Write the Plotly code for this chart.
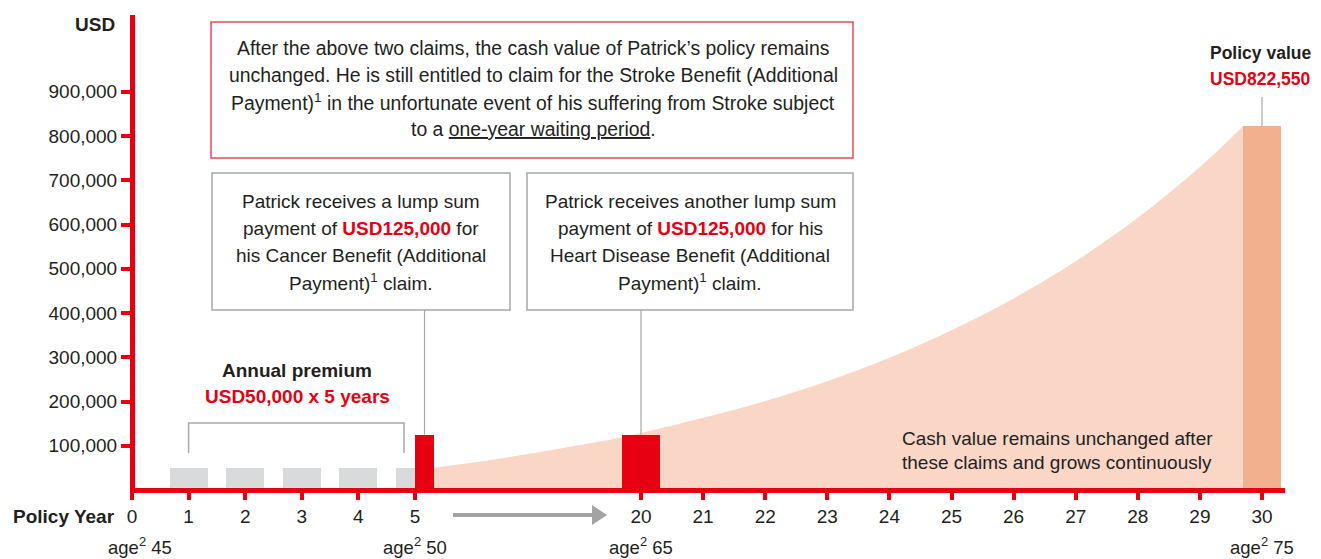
import numpy as np
import plotly.graph_objects as go

# ---------------- data ----------------
premium_years = [1, 2, 3, 4, 5]
premium_amounts = [50000, 50000, 50000, 50000, 50000]

claim_years = [5, 20]
claim_amounts = [125000, 125000]

cash_years = [5, 8, 11, 14, 17, 20, 21, 22, 23, 24, 25, 26, 27, 28, 29, 29.7]
cash_values = [44000, 58000, 73000, 90000, 108000, 129000, 163000, 201000,
               246000, 299000, 361000, 433000, 517000, 615000, 730000, 822550]

policy_value_year = 30
policy_value = 822550

tick_years = [0, 1, 2, 3, 4, 5, 20, 21, 22, 23, 24, 25, 26, 27, 28, 29, 30]
y_ticks = [100000, 200000, 300000, 400000, 500000, 600000, 700000, 800000, 900000]
age_years = [0, 5, 20, 30]
ages = [45, 50, 65, 75]

# ---------------- style / layout ----------------
RED = "#e60012"
TXT = "#231f20"
GRAY_BAR = "#d9dadb"
AREA = "#f9d6c6"
ORANGE = "#f3b08f"
BOX_GRAY = "#a8a8a8"
FONT = "Liberation Sans, Arial, sans-serif"

W, H = 1321, 559
OFF = 8                                # page body margin
PL, PR, PT, PB = 132, 1285, 15, 490   # plot area in window pixels
PX_PER_100K = 44.25
Y_MAX = (PB - PT) / PX_PER_100K * 100000

# broken axis: piecewise-linear year -> position (pixels from axis origin)
YEAR_KNOTS = [0, 5, 20, 30]
POS_KNOTS = [0, 283, 509, 1130]


def pos(years):
    return np.interp(np.asarray(years, dtype=float), YEAR_KNOTS, POS_KNOTS)


def fx(X):
    return (X - PL) / (PR - PL)


def fy(Y):
    return (PB - Y) / (PB - PT)


def fy_val(v):
    return v / Y_MAX


fig = go.Figure()

# cash value area (base subplot)
fig.add_trace(go.Scatter(
    x=pos(cash_years), y=cash_values, mode="lines", fill="tozeroy",
    fillcolor=AREA, line=dict(width=0, shape="spline", color=AREA),
    hoverinfo="skip", showlegend=False, xaxis="x", yaxis="y"))

# bars on overlaid subplot (drawn above the area)
fig.add_trace(go.Bar(
    x=pos(premium_years), y=premium_amounts, width=38,
    marker=dict(color=GRAY_BAR, line=dict(width=0)),
    showlegend=False, xaxis="x2", yaxis="y"))
fig.add_trace(go.Bar(
    x=pos(claim_years), y=claim_amounts, width=[19, 38], offset=[0, -19],
    marker=dict(color=RED, line=dict(width=0)),
    showlegend=False, xaxis="x2", yaxis="y"))
fig.add_trace(go.Bar(
    x=pos([policy_value_year]), y=[policy_value], width=38,
    marker=dict(color=ORANGE, line=dict(width=0)),
    showlegend=False, xaxis="x2", yaxis="y"))

shapes = []
annotations = []


def text(s, X, Y, size=19, color=TXT, xanchor="center", bold=False):
    if bold:
        s = "<b>" + s + "</b>"
    annotations.append(dict(
        text=s, x=fx(X), y=fy(Y), xref="paper", yref="paper",
        xanchor=xanchor, yanchor="middle", showarrow=False,
        font=dict(family=FONT, size=size, color=color)))


def rect(x0, y0, x1, y1, color, width=1.5):
    shapes.append(dict(type="rect", xref="paper", yref="paper",
                       x0=fx(x0), x1=fx(x1), y0=fy(y1), y1=fy(y0),
                       line=dict(color=color, width=width),
                       fillcolor="white", layer="above"))


def vline_val(X, Ytop, val, color=BOX_GRAY):
    shapes.append(dict(type="line", xref="paper", yref="paper",
                       x0=X / (PR - PL), x1=X / (PR - PL),
                       y0=fy(Ytop), y1=fy_val(val),
                       line=dict(color=color, width=1.2), layer="above"))


# top box
rect(211, 22, 853, 158, "#e94b56")
top_lines = [
    "After the above two claims, the cash value of Patrick’s policy remains",
    "unchanged. He is still entitled to claim for the Stroke Benefit (Additional",
    "Payment)<sup>1</sup> in the unfortunate event of his suffering from Stroke subject",
    "to a <u>one-year waiting period</u>.",
]
for i, s in enumerate(top_lines):
    text(s, 533, 48 + 27 * i, size=19.4)

# claim boxes
rect(212, 173, 510, 310, BOX_GRAY)
rect(527, 173, 853, 310, BOX_GRAY)
rb = "<b><span style='color:%s'>USD125,000</span></b>" % RED
box1 = ["Patrick receives a lump sum",
        "payment of " + rb + " for",
        "his Cancer Benefit (Additional",
        "Payment)<sup>1</sup> claim."]
box2 = ["Patrick receives another lump sum",
        "payment of " + rb + " for his",
        "Heart Disease Benefit (Additional",
        "Payment)<sup>1</sup> claim."]
for i, s in enumerate(box1):
    text(s, 361, 201 + 27 * i)
for i, s in enumerate(box2):
    text(s, 690, 201 + 27 * i)

# connectors from boxes to bars
claim_pos = pos(claim_years)
vline_val(claim_pos[0] + 9.5, 310, claim_amounts[0])
vline_val(claim_pos[1], 310, claim_amounts[1])
vline_val(pos([policy_value_year])[0], 97, policy_value)

# policy value label
text("Policy value", 1260, 53, size=17.5, bold=True)
text("USD822,550", 1260, 79, size=17.5, color=RED, bold=True)

# annual premium label + bracket
text("Annual premium", 297, 370, bold=True)
text("USD50,000 x 5 years", 297, 396, color=RED, bold=True)
bx0, bx1 = PL + pos([premium_years[0]])[0], 404
shapes.append(dict(type="path", xref="paper", yref="paper",
                   path="M %f %f L %f %f L %f %f L %f %f" % (
                       fx(bx0), fy(453), fx(bx0), fy(423),
                       fx(bx1), fy(423), fx(bx1), fy(453)),
                   line=dict(color=BOX_GRAY, width=1.5), layer="above"))

# cash value note
text("Cash value remains unchanged after", 1057, 438)
text("these claims and grows continuously", 1057, 462)

# axis titles
text("USD", 117, 25, bold=True, xanchor="right")
text("Policy Year", 117, 516, bold=True, xanchor="right")

# age labels
for yr, a in zip(age_years, ages):
    text("age<sup>2</sup> %d" % a, PL + pos([yr])[0] + (8 if yr == 0 else 0), 546, size=18.5)

# gray arrow in the axis break
shapes.append(dict(type="line", xref="paper", yref="paper",
                   x0=fx(453), x1=fx(594), y0=fy(515), y1=fy(515),
                   line=dict(color="#a3a3a3", width=4), layer="above"))
shapes.append(dict(type="path", xref="paper", yref="paper",
                   path="M %f %f L %f %f L %f %f Z" % (
                       fx(592), fy(505), fx(607), fy(515), fx(592), fy(525)),
                   fillcolor="#a3a3a3", line=dict(width=0), layer="above"))

# axis lines
shapes.append(dict(type="line", xref="paper", yref="paper",
                   x0=fx(130), x1=fx(1285), y0=fy(490.5), y1=fy(490.5),
                   line=dict(color=RED, width=5), layer="above"))
shapes.append(dict(type="line", xref="paper", yref="paper",
                   x0=fx(132.5), x1=fx(132.5), y0=fy(493), y1=fy(15),
                   line=dict(color=RED, width=5), layer="above"))

xr = [0, PR - PL]
fig.update_layout(
    width=W - OFF, height=H - OFF, autosize=False,
    margin=dict(l=PL - OFF, r=W - PR, t=PT - OFF, b=H - PB),
    paper_bgcolor="white", plot_bgcolor="white",
    barmode="overlay", bargap=0,
    font=dict(family=FONT, size=19, color=TXT),
    xaxis=dict(range=xr, showgrid=False, zeroline=False, showline=False,
               tickmode="array", tickvals=pos(tick_years),
               ticktext=[str(t) for t in tick_years],
               ticks="outside", ticklen=9, tickwidth=3.5, tickcolor=RED,
               tickfont=dict(family=FONT, size=19, color=TXT),
               fixedrange=True),
    xaxis2=dict(range=xr, overlaying="x", anchor="y", visible=False,
                fixedrange=True),
    yaxis=dict(range=[0, Y_MAX], showgrid=False, zeroline=False, showline=False,
               tickmode="array", tickvals=y_ticks,
               ticktext=["{:,}".format(v) for v in y_ticks],
               ticks="outside", ticklen=10, tickwidth=4, tickcolor=RED,
               tickfont=dict(family=FONT, size=19, color=TXT),
               fixedrange=True),
    shapes=shapes, annotations=annotations,
    showlegend=False,
)

fig.write_html("out.html")
